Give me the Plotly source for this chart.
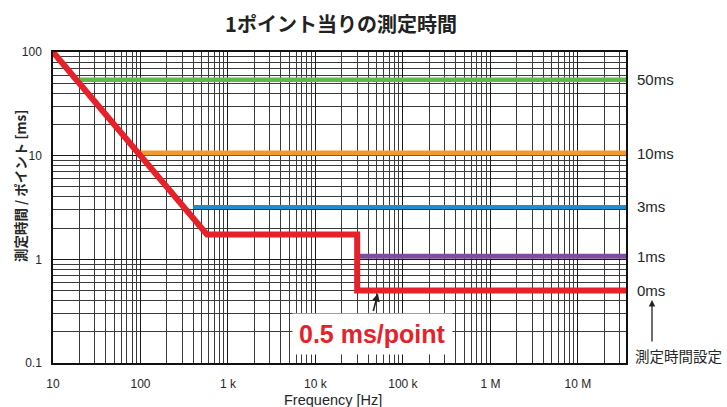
import math
import plotly.graph_objects as go

# Measurement time per point vs. frequency
x_end = 10 ** 7.55

# Red curve: actual time per point (0 ms setting)
red_freq = [10, 575, 30000, 30000, x_end]
red_time = [100, 1.739, 1.739, 0.5, 0.5]

# Flat levels for the other measurement-time settings
level_names = ["50ms", "10ms", "3ms", "1ms"]
level_values = [54, 10.6, 3.2, 1.07]
level_start = [20, 100, 400, 30000]
level_colors = ["#5dba4b", "#f39a2e", "#1f8dcb", "#7b4f9d"]
level_widths = [4.5, 5, 4, 5]

red_color = "#e62129"

x_tick_vals = [10, 100, 1e3, 1e4, 1e5, 1e6, 1e7]
x_tick_text = ["10", "100", "1 k", "10 k", "100 k", "1 M", "10 M"]
y_tick_vals = [0.1, 1, 10, 100]
y_tick_text = ["0.1", "1", "10", "100"]

font_family = "Liberation Sans, Arial, Noto Sans CJK JP"
jp_font = "Noto Sans CJK JP, Liberation Sans"
text_color = "#262626"

fig = go.Figure()

for name, val, start, col, w in zip(level_names, level_values, level_start,
                                    level_colors, level_widths):
    fig.add_trace(go.Scatter(x=[start, x_end], y=[val, val], mode="lines",
                             line=dict(color=col, width=w), name=name,
                             showlegend=False, hoverinfo="skip"))

fig.add_trace(go.Scatter(x=red_freq, y=red_time, mode="lines",
                         line=dict(color=red_color, width=6), name="0ms",
                         showlegend=False, hoverinfo="skip"))

annotations = []
# Right-hand setting labels (log axis: annotation y is log10 of the value)
for name, val in zip(level_names + ["0ms"], level_values + [red_time[-1]]):
    annotations.append(dict(x=1, xref="paper", y=math.log10(val), yref="y",
                            yanchor="middle", text=name, showarrow=False,
                            xanchor="left", xshift=9,
                            font=dict(family=font_family, size=15, color=text_color)))

# "測定時間設定" caption with upward arrow
annotations.append(dict(x=1, xref="paper", y=-1, yref="y", xshift=7, yshift=8,
                        text="測定時間設定", showarrow=False, xanchor="left",
                        yanchor="middle",
                        font=dict(family=jp_font, size=14.5, color=text_color)))
annotations.append(dict(x=1, xref="paper", y=-1, yref="y", xshift=26, yshift=63,
                        text="", showarrow=True, ax=0, ay=43,
                        arrowhead=2, arrowsize=1, arrowwidth=1.3, arrowcolor="#222"))

# Callout for the 0.5 ms/point level
annotations.append(dict(x=4.714, y=-0.33, xref="x", yref="y", text="",
                        showarrow=True, ax=-5, ay=19, arrowhead=2, arrowsize=1,
                        arrowwidth=1.6, arrowcolor="#222"))
annotations.append(dict(x=4.657, y=-0.72, xref="x", yref="y",
                        text="<b>0.5 ms/point</b>", showarrow=False,
                        bgcolor="white", borderpad=6,
                        font=dict(family=font_family, size=25, color=red_color)))

# Axis titles
annotations.append(dict(x=(20 - 53) / 573, y=(363 - 186) / 311, xref="paper", yref="paper",
                        text="<b>測定時間 / ポイント [ms]</b>", textangle=-90,
                        showarrow=False, xanchor="center", yanchor="middle",
                        font=dict(family=jp_font, size=13.5, color=text_color)))
annotations.append(dict(x=(333 - 53) / 573, y=(363 - 400) / 311, xref="paper", yref="paper",
                        text="Frequency [Hz]", showarrow=False,
                        xanchor="center", yanchor="middle",
                        font=dict(family=font_family, size=14.5, color=text_color)))

fig.update_layout(
    width=727, height=407,
    margin=dict(l=53, r=101, t=52, b=44),
    paper_bgcolor="white", plot_bgcolor="white",
    title=dict(text="<b>1ポイント当りの測定時間</b>", x=341 / 727, xanchor="center",
               y=1 - 25 / 407, yanchor="middle",
               font=dict(family=jp_font, size=20, color="#222")),
    annotations=annotations,
    showlegend=False,
)

fig.update_xaxes(type="log", range=[1, 7.55], tickvals=x_tick_vals, ticktext=x_tick_text,
                 showgrid=True, gridcolor="#1a1a1a", gridwidth=1.3,
                 minor=dict(dtick="D1", showgrid=True, gridcolor="#3a3a3a", gridwidth=0.8),
                 showline=True, linecolor="#111", linewidth=1.5, mirror=True,
                 ticks="", ticklabelstandoff=9,
                 tickfont=dict(family=font_family, size=12, color=text_color))

fig.update_yaxes(type="log", range=[-1, 2], tickvals=y_tick_vals, ticktext=y_tick_text,
                 showgrid=True, gridcolor="#1a1a1a", gridwidth=1.3,
                 minor=dict(dtick="D1", showgrid=True, gridcolor="#3a3a3a", gridwidth=0.8),
                 showline=True, linecolor="#111", linewidth=1.5, mirror=True,
                 ticks="", ticklabelstandoff=7,
                 tickfont=dict(family=font_family, size=12, color=text_color))

fig.write_html("out.html")
